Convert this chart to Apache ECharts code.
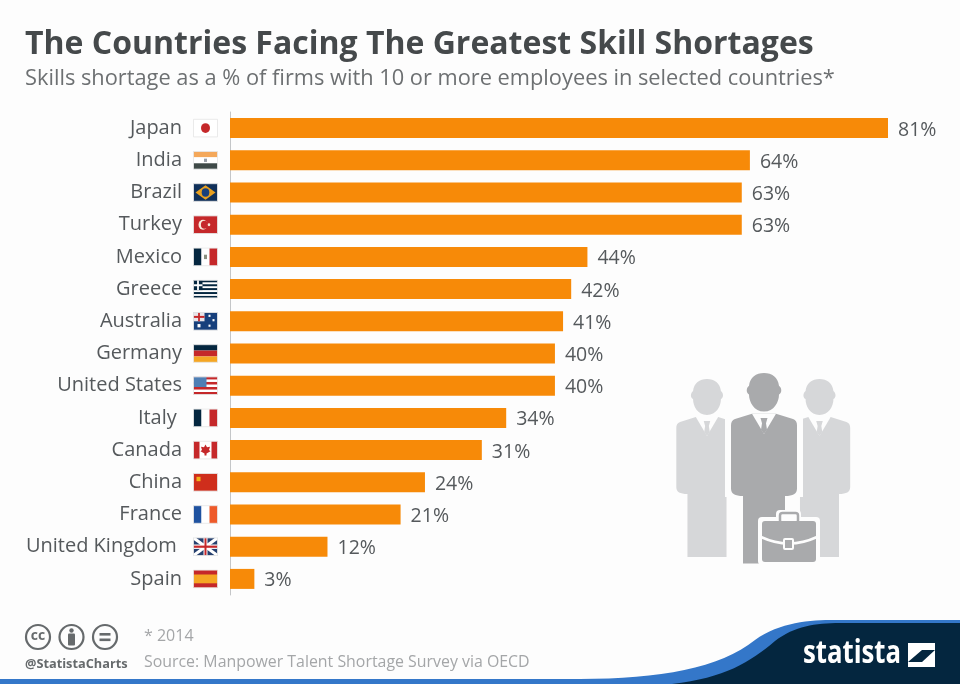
<!DOCTYPE html>
<html>
<head>
<meta charset="utf-8">
<style>html,body{margin:0;padding:0;background:#fdfdfd}#chart{width:960px;height:684px}</style>
<script src="https://cdn.jsdelivr.net/npm/echarts@6/dist/echarts.min.js"></script>
</head>
<body>
<div id="chart"></div>
<script>
// trailing spaces keep the two labels that sit a bit left in the original
var countries = ['Japan', 'India', 'Brazil', 'Turkey', 'Mexico', 'Greece', 'Australia', 'Germany',
  'United States', 'Italy ', 'Canada', 'China', 'France', 'United Kingdom ', 'Spain'];
var shortage = [81, 64, 63, 63, 44, 42, 41, 40, 40, 34, 31, 24, 21, 12, 3];

var NAVY = '#04263f', RED = '#c5282a', ORANGE = '#f78a08', ICON = '#666a6c';
var SIDE = '#d6d7d9', MID = '#a9aaac', BG = '#fdfdfd';

// flags as stripes: [x, y, w, h, colour] in a 24x16 box
var flags = {
  Japan: [[0, 0, 24, 16, '#ffffff']],
  India: [[0, 0, 24, 5.3, '#f4a85a'], [0, 5.3, 24, 5.4, '#ffffff'], [0, 10.7, 24, 5.3, '#3f4a48'], [10.5, 6.5, 3, 3, '#9aa0a8']],
  Brazil: [[0, 0, 24, 16, '#10305a']],
  Turkey: [[0, 0, 24, 16, RED]],
  Mexico: [[0, 0, 8, 16, NAVY], [8, 0, 8, 16, '#ffffff'], [16, 0, 8, 16, RED], [10.5, 6, 3, 4, '#8a8f80']],
  Greece: [[0, 0, 24, 16, '#ffffff'], [0, 0, 24, 1.8, NAVY], [0, 3.6, 24, 1.8, NAVY], [0, 7.1, 24, 1.8, NAVY], [0, 10.7, 24, 1.8, NAVY], [0, 14.2, 24, 1.8, NAVY],
    [0, 0, 9, 8.9, NAVY], [3.6, 0, 1.8, 8.9, '#ffffff'], [0, 3.6, 9, 1.8, '#ffffff']],
  Australia: [[0, 0, 24, 16, '#17407c'], [0, 0, 11, 8, '#e8e4e8'], [4.6, 0, 1.8, 8, RED], [0, 3.1, 11, 1.8, RED], [4, 10.5, 3, 3, '#ffffff'], [15, 2, 2, 2, '#ffffff'], [19, 6, 2, 2, '#ffffff'], [15, 11, 2, 2, '#ffffff']],
  Germany: [[0, 0, 24, 5.3, NAVY], [0, 5.3, 24, 5.4, RED], [0, 10.7, 24, 5.3, '#f5a623']],
  'United States': [[0, 0, 24, 16, '#ffffff'], [0, 0, 24, 2.3, RED], [0, 4.6, 24, 2.3, RED], [0, 9.2, 24, 2.3, RED], [0, 13.7, 24, 2.3, RED], [0, 0, 13, 9.2, '#4f7fb5']],
  'Italy ': [[0, 0, 8, 16, NAVY], [8, 0, 8, 16, '#ffffff'], [16, 0, 8, 16, RED]],
  Canada: [[0, 0, 24, 16, '#ffffff'], [0, 0, 6, 16, RED], [18, 0, 6, 16, RED]],
  China: [[0, 0, 24, 16, '#cf2e1c'], [3, 3, 4, 4, '#f2b21a']],
  France: [[0, 0, 8, 16, '#1f52a0'], [8, 0, 8, 16, '#ffffff'], [16, 0, 8, 16, '#ee5a2a']],
  'United Kingdom ': [[0, 0, 24, 16, '#26406f']],
  Spain: [[0, 0, 24, 16, '#f5a623'], [0, 0, 24, 4, RED], [0, 12, 24, 4, RED]]
};

function renderFlag(params, api) {
  var i = api.value(0);
  var p = api.coord([0, i]);
  var name = countries[i];
  var kids = flags[name].map(function (s) {
    return { type: 'rect', shape: { x: s[0], y: s[1], width: s[2], height: s[3] }, style: { fill: s[4] } };
  });
  if (name === 'Japan') {
    kids.push({ type: 'circle', shape: { cx: 12, cy: 8, r: 4.5 }, style: { fill: RED } });
  }
  if (name === 'Brazil') {
    kids.push({ type: 'polygon', shape: { points: [[2, 8], [12, 1.5], [22, 8], [12, 14.5]] }, style: { fill: '#e8a020' } });
    kids.push({ type: 'circle', shape: { cx: 12, cy: 8, r: 3.8 }, style: { fill: '#17407c' } });
  }
  if (name === 'Turkey') {
    kids.push({ type: 'circle', shape: { cx: 9.5, cy: 8, r: 4.5 }, style: { fill: '#f8e8d8' } });
    kids.push({ type: 'circle', shape: { cx: 11, cy: 8, r: 3.6 }, style: { fill: RED } });
    kids.push({ type: 'circle', shape: { cx: 15.5, cy: 8, r: 1.3 }, style: { fill: '#f8e8d8' } });
  }
  if (name === 'Canada') {
    kids.push({ type: 'polygon', shape: { points: [[12, 3], [13.5, 5.5], [16.5, 5], [15.5, 8], [17, 9], [13, 11], [13, 13], [11, 13], [11, 11], [7, 9], [8.5, 8], [7.5, 5], [10.5, 5.5]] }, style: { fill: RED } });
  }
  if (name === 'United Kingdom ') {
    kids.push({ type: 'line', shape: { x1: 0, y1: 0, x2: 24, y2: 16 }, style: { stroke: '#ffffff', lineWidth: 3 } });
    kids.push({ type: 'line', shape: { x1: 24, y1: 0, x2: 0, y2: 16 }, style: { stroke: '#ffffff', lineWidth: 3 } });
    kids.push({ type: 'rect', shape: { x: 10, y: 0, width: 4, height: 16 }, style: { fill: '#ffffff' } });
    kids.push({ type: 'rect', shape: { x: 0, y: 6, width: 24, height: 4 }, style: { fill: '#ffffff' } });
    kids.push({ type: 'rect', shape: { x: 11, y: 0, width: 2, height: 16 }, style: { fill: RED } });
    kids.push({ type: 'rect', shape: { x: 0, y: 7, width: 24, height: 2 }, style: { fill: RED } });
  }
  // thin pale edge round every flag
  kids.push({ type: 'rect', shape: { x: 0, y: 0, width: 24, height: 16 }, style: { fill: 'none', stroke: '#e6e6e6', lineWidth: 0.8 } });
  return { type: 'group', x: p[0] - 36.5, y: p[1] - 8.8, scaleY: 1.1, children: kids };
}

// graphic component has no 'path' type, so register each svg path as a shape
var pathCount = 0;
function svgPath(d, style) {
  var name = 'svgPath' + (pathCount++);
  echarts.graphic.registerShape(name, echarts.graphic.extendPath(d, {}));
  return { type: name, style: style };
}

// one grey businessman, x = left of the jacket, y = top of the head
function person(x, y, sx, sy, fill) {
  return {
    type: 'group', x: x, y: y, scaleX: sx, scaleY: sy,
    children: [
      svgPath('M33 36 C23 36 18 27 18 20 C15 19 15 14 18 12 C19 4 25 0 33 0 C41 0 47 4 48 12 C51 14 51 19 48 20 C48 27 43 36 33 36 Z', { fill: fill }),
      svgPath('M21 38 L4 43 C1 44 0 46 0 49 L0 108 C0 113 4 115 12 115 L12 178 L54 178 L54 115 C62 115 66 113 66 108 L66 49 C66 46 65 44 62 43 L45 38 Z', { fill: fill }),
      { type: 'polygon', shape: { points: [[21, 38], [45, 38], [33, 57]] }, style: { fill: BG } },
      { type: 'polygon', shape: { points: [[29.5, 42], [36.5, 42], [35, 47], [36, 53], [33, 57], [30, 53], [31, 47]] }, style: { fill: fill } }
    ]
  };
}

var art = [
  person(676.3, 379, 0.93, 1, SIDE),
  person(788.8, 379, 0.93, 1, SIDE),
  // gap that cuts the side jackets away from the middle man
  { type: 'rect', shape: { x: 725, y: 417, width: 78, height: 80 }, style: { fill: BG } },
  person(731, 373, 1, 1.07, MID),
  // briefcase
  { type: 'rect', shape: { x: 758, y: 517, width: 62, height: 48, r: 4 }, style: { fill: BG } },
  { type: 'rect', shape: { x: 776, y: 510, width: 25, height: 14, r: 4 }, style: { fill: BG } },
  { type: 'rect', shape: { x: 780, y: 513, width: 18, height: 10, r: 2.5 }, style: { fill: 'none', stroke: MID, lineWidth: 2.5 } },
  { type: 'rect', shape: { x: 762, y: 521, width: 54, height: 41, r: 3 }, style: { fill: MID } },
  svgPath('M761 537 Q789 550 817 537', { fill: 'none', stroke: BG, lineWidth: 2.5 }),
  { type: 'rect', shape: { x: 784, y: 539, width: 9, height: 10, r: 1 }, style: { fill: MID, stroke: BG, lineWidth: 2 } }
];

var footer = [
  { type: 'rect', shape: { x: 0, y: 679, width: 960, height: 5 }, style: { fill: '#3477c9' } },
  svgPath('M580 679 C660 679 720 668 755 640 C780 622 810 620 835 620 L960 620 L960 684 L660 684 Z', { fill: '#3477c9' }),
  svgPath('M672 684 C725 678 750 662 775 641 C795 626 815 623 840 623 L960 623 L960 684 Z', { fill: NAVY }),
  { type: 'text', x: 803, y: 654, scaleX: 0.78, style: { text: 'statista', font: 'bold 33px "Open Sans"', fill: '#ffffff', textVerticalAlign: 'middle' } },
  { type: 'polygon', shape: { points: [[908, 643], [935, 643], [935, 650], [922, 650], [908, 662]] }, style: { fill: '#ffffff' } },
  { type: 'polygon', shape: { points: [[935, 650], [935, 667], [908, 667], [908, 662], [922, 662]] }, style: { fill: '#ffffff' } },
  // cc icons
  { type: 'circle', shape: { cx: 38, cy: 637, r: 12 }, style: { fill: 'none', stroke: ICON, lineWidth: 2.2 } },
  { type: 'text', x: 38, y: 636, style: { text: 'cc', font: 'bold 14px "Open Sans"', fill: ICON, textAlign: 'center', textVerticalAlign: 'middle' } },
  { type: 'circle', shape: { cx: 71.5, cy: 637, r: 12 }, style: { fill: 'none', stroke: ICON, lineWidth: 2.2 } },
  { type: 'circle', shape: { cx: 71.5, cy: 630.5, r: 2.2 }, style: { fill: ICON } },
  { type: 'rect', shape: { x: 68, y: 633.5, width: 7, height: 12, r: 1 }, style: { fill: ICON } },
  { type: 'circle', shape: { cx: 105, cy: 637, r: 12 }, style: { fill: 'none', stroke: ICON, lineWidth: 2.2 } },
  { type: 'rect', shape: { x: 99.5, y: 633, width: 11, height: 2.6 }, style: { fill: ICON } },
  { type: 'rect', shape: { x: 99.5, y: 638.5, width: 11, height: 2.6 }, style: { fill: ICON } }
];

var chart = echarts.init(document.getElementById('chart'), null, { renderer: 'canvas' });
chart.setOption({
  backgroundColor: BG,
  animation: false,
  title: [
    { text: 'The Countries Facing The Greatest Skill Shortages', left: 20, top: 24,
      textStyle: { fontFamily: 'Open Sans', fontWeight: 'bold', fontSize: 32, color: '#45494b' } },
    { text: 'Skills shortage as a % of firms with 10 or more employees in selected countries*', left: 20, top: 63,
      textStyle: { fontFamily: 'Open Sans', fontWeight: 'normal', fontSize: 21.8, color: '#6d7072' } },
    { text: '* 2014', left: 139, top: 623,
      textStyle: { fontFamily: 'Open Sans', fontWeight: 'normal', fontSize: 16, color: '#a4a6a8' } },
    { text: 'Source: Manpower Talent Shortage Survey via OECD', left: 139, top: 649,
      textStyle: { fontFamily: 'Open Sans', fontWeight: 'normal', fontSize: 15.9, color: '#a4a6a8' } },
    { text: '@StatistaCharts', left: 20, top: 653,
      textStyle: { fontFamily: 'Open Sans', fontWeight: 'bold', fontSize: 12.75, color: '#666a6c' } }
  ],
  grid: { left: 230, top: 112, width: 658, height: 483 },
  xAxis: { type: 'value', min: 0, max: 81, show: false },
  yAxis: {
    type: 'category', data: countries, inverse: true,
    axisLine: { show: true, lineStyle: { color: '#c4c6c8', width: 1 } },
    axisTick: { show: false },
    axisLabel: { margin: 48, padding: [2, 0, 0, 0], fontFamily: 'Open Sans', fontSize: 20, color: '#55595c' }
  },
  series: [
    {
      type: 'bar', data: shortage, barWidth: 20, itemStyle: { color: ORANGE },
      label: { show: true, position: 'right', distance: 10, formatter: '{c}%',
        fontFamily: 'Open Sans', fontSize: 19.5, color: '#55595c', offset: [0, 2] }
    },
    {
      type: 'custom', renderItem: renderFlag, clip: false, silent: true,
      data: countries.map(function (c, i) { return [i]; }),
      encode: { y: 0 }
    }
  ],
  graphic: { elements: art.concat(footer) }
});
</script>
</body>
</html>
